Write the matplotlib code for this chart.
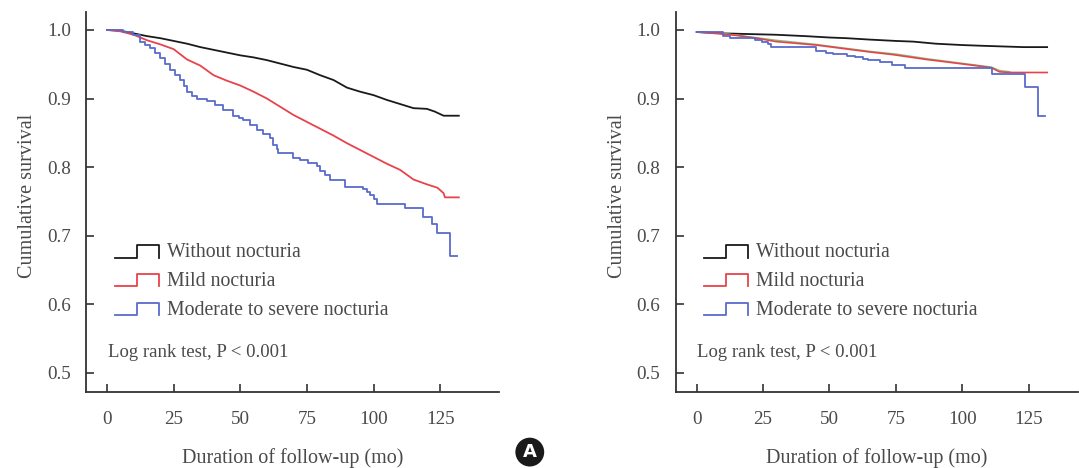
import matplotlib
matplotlib.use("Agg")
import matplotlib.pyplot as plt
from matplotlib.lines import Line2D
from matplotlib.legend_handler import HandlerBase

plt.rcParams['font.family'] = ['Liberation Serif', 'DejaVu Serif']

TEXT = '#4a4a4a'
BLACK = '#1a1a1a'
RED = '#e8424a'
BLUE = '#5a6bcc'
GREEN = '#7cc27c'

labels = ['Without nocturia', 'Mild nocturia', 'Moderate to severe nocturia']
x_ticks = [0, 25, 50, 75, 100, 125]
y_ticks = [0.5, 0.6, 0.7, 0.8, 0.9, 1.0]

# panel 1
black1_t = [0, 5, 10, 15, 20, 25, 30, 35, 40, 45, 50, 55, 60, 65, 70, 75, 80, 85,
            90, 95, 100, 105, 110, 115, 120, 123, 126.3, 132]
black1_s = [1.0, 0.999, 0.995, 0.991, 0.988, 0.984, 0.980, 0.975, 0.971, 0.967, 0.963,
            0.960, 0.956, 0.951, 0.946, 0.942, 0.934, 0.927, 0.916, 0.910, 0.905, 0.898,
            0.892, 0.886, 0.885, 0.881, 0.875, 0.875]
red1_t = [0, 5, 10, 15, 20, 25, 30, 35, 40, 45, 50, 55, 60, 65, 70, 75, 80, 85, 90,
          95, 100, 105, 110, 115, 120, 124, 126.3, 126.8, 132]
red1_s = [1.0, 0.998, 0.993, 0.985, 0.979, 0.972, 0.957, 0.948, 0.934, 0.926, 0.919,
          0.910, 0.900, 0.888, 0.876, 0.866, 0.856, 0.846, 0.835, 0.825, 0.815, 0.805,
          0.796, 0.782, 0.775, 0.770, 0.762, 0.756, 0.756]
blue1_t = [0, 6, 9.9, 12.4, 14.3, 16.1, 18.0, 19.9, 21.8, 23.6, 25.5, 27.4, 28.7, 29.9,
           31.8, 33.7, 37.4, 40.5, 43.7, 47.4, 49.5, 51.2, 53.7, 56.2, 58.7, 61.2, 62.4,
           63.7, 64.3, 69.9, 72.5, 75.5, 78.7, 80.0, 81.8, 83.7, 89.3, 96.2, 97.5, 98.7,
           100.0, 101.2, 111.9, 118.7, 121.9, 123.8, 128.8, 131.3]
blue1_s = [1.0, 0.997, 0.993, 0.983, 0.978, 0.973, 0.966, 0.959, 0.950, 0.942, 0.935,
           0.927, 0.918, 0.910, 0.904, 0.900, 0.896, 0.890, 0.883, 0.874, 0.871, 0.869,
           0.862, 0.854, 0.848, 0.842, 0.832, 0.826, 0.820, 0.814, 0.810, 0.806, 0.801,
           0.794, 0.788, 0.781, 0.771, 0.768, 0.764, 0.760, 0.753, 0.746, 0.740, 0.728,
           0.717, 0.704, 0.670, 0.670]

# panel 2
black2_t = [0, 10, 20, 30, 41, 50, 56.5, 65, 75, 81.6, 90, 100, 107, 115, 123, 132]
black2_s = [0.997, 0.995, 0.994, 0.993, 0.991, 0.989, 0.988, 0.986, 0.984, 0.983, 0.980,
            0.978, 0.977, 0.976, 0.975, 0.975]
red2_t = [0, 10, 15, 22.6, 30, 45, 55, 65, 74, 86.5, 99, 111, 114, 118, 132]
red2_s = [0.997, 0.994, 0.992, 0.988, 0.983, 0.978, 0.973, 0.968, 0.964, 0.957, 0.951,
          0.945, 0.939, 0.938, 0.938]
green2_t = [10, 22, 30, 45, 55, 65, 75, 87, 99, 111, 114, 118]
green2_s = [0.995, 0.989, 0.985, 0.979, 0.974, 0.969, 0.965, 0.958, 0.952, 0.946, 0.941, 0.939]
blue2_t = [0, 10, 12.5, 21.9, 24.5, 27, 28.1, 44.9, 48.9, 51.4, 56.5, 59.6, 62.7, 64.6,
           69, 73.4, 78.4, 111.4, 123.6, 128.6, 131.1]
blue2_s = [0.997, 0.991, 0.989, 0.986, 0.983, 0.980, 0.975, 0.970, 0.967, 0.965, 0.962,
           0.960, 0.957, 0.956, 0.954, 0.949, 0.945, 0.936, 0.917, 0.874, 0.874]


class StepHandler(HandlerBase):
    # legend symbol drawn as a little step: low on the left, high on the right
    def create_artists(self, legend, orig_handle, xdescent, ydescent,
                       width, height, fontsize, trans):
        x0 = -xdescent
        y0 = -ydescent - 0.1 * height
        y1 = y0 + height
        xm = x0 + width * 0.5
        xs = [x0, xm, xm, x0 + width, x0 + width]
        ys = [y0, y0, y1, y1, y0]
        ln = Line2D(xs, ys, color=orig_handle.get_color(), lw=1.3)
        ln.set_transform(trans)
        return [ln]


FS = 14.5
LEG_FS = 14.2

fig = plt.figure(figsize=(10.79, 4.68), dpi=100)
ax1 = fig.add_axes([0.0797, 0.1624, 0.3828, 0.812])
ax2 = fig.add_axes([0.6262, 0.1624, 0.3728, 0.812])

l1 = ax1.plot(black1_t, black1_s, color=BLACK, lw=1.3)[0]
l2 = ax1.plot(red1_t, red1_s, color=RED, lw=1.3)[0]
l3 = ax1.step(blue1_t, blue1_s, where='post', color=BLUE, lw=1.3)[0]

ax2.plot(black2_t, black2_s, color=BLACK, lw=1.3)
ax2.plot(green2_t, green2_s, color=GREEN, lw=1.0)
ax2.plot(red2_t, red2_s, color=RED, lw=1.2)
ax2.step(blue2_t, blue2_s, where='post', color=BLUE, lw=1.3)

for ax, xmax in [(ax1, 147.1), (ax2, 143.6)]:
    ax.set_xlim(-7.9, xmax)
    ax.set_ylim(0.4723, 1.0262)
    ax.set_xticks(x_ticks)
    ax.set_yticks(y_ticks)
    ax.set_yticklabels([f'{v:.1f}' for v in y_ticks])
    for s in ['top', 'right']:
        ax.spines[s].set_visible(False)
    for s in ['left', 'bottom']:
        ax.spines[s].set_color('#333333')
        ax.spines[s].set_linewidth(1.3)
    ax.tick_params(axis='both', direction='in', length=6, width=1.2, color='#333333',
                   labelsize=13.8, labelcolor=TEXT)
    ax.tick_params(axis='y', pad=11)
    ax.tick_params(axis='x', pad=14)
    ax.set_xlabel('Duration of follow-up (mo)', fontsize=FS, color=TEXT, labelpad=14)
    ax.set_ylabel('Cumulative survival', fontsize=FS, color=TEXT, labelpad=7, y=0.516)

    leg = ax.legend([l1, l2, l3], labels, loc='upper left', bbox_to_anchor=(0.07, 0.392),
                    frameon=False, fontsize=LEG_FS, handler_map={Line2D: StepHandler()},
                    handlelength=2.25, handleheight=0.6, handletextpad=0.4,
                    labelspacing=0.5, borderpad=0, borderaxespad=0)
    for t in leg.get_texts():
        t.set_color(TEXT)
    ax.text(0.053, 0.105, 'Log rank test, P < 0.001', transform=ax.transAxes,
            fontsize=13.5, color=TEXT, ha='left', va='center')

fig.text(0.491, 0.034, 'A', ha='center', va='center', color='white', fontsize=13,
         fontweight='bold', family='DejaVu Sans',
         bbox=dict(boxstyle='circle,pad=0.3', fc='#1a1a1a', ec='none'))

fig.savefig('out.png', dpi=100)
